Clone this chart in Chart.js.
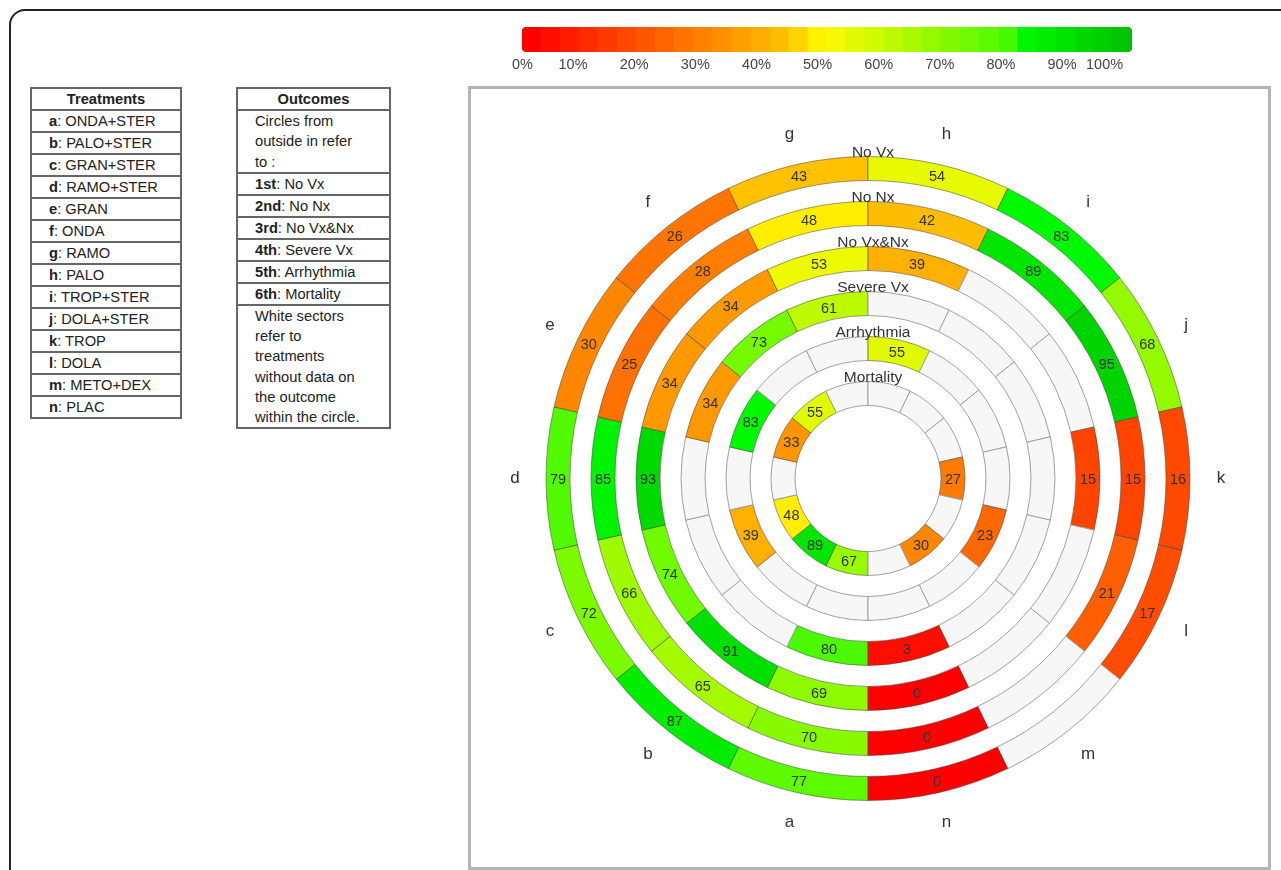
<!DOCTYPE html>
<html>
<head>
<meta charset="utf-8">
<script src="https://cdn.jsdelivr.net/npm/chart.js@4.4.1/dist/chart.umd.min.js"></script>
<style>
  html, body { margin: 0; padding: 0; overflow: hidden; background: #fff; }
  body { width: 1281px; height: 870px; position: relative; font-family: "Liberation Sans", Arial, sans-serif; }
  #frame { position: absolute; left: 9px; top: 9px; width: 1400px; height: 1000px; border: 2px solid #222; border-radius: 16px; }
  #box { position: absolute; left: 468px; top: 86px; width: 803px; height: 784px; border: 3px solid #b4b4b4; box-sizing: border-box; }
  .tbl { position: absolute; top: 87px; border: 2px solid #666; font-size: 14.7px; color: #222; }
  .tbl div { height: 20px; line-height: 20px; padding-left: 17px; border-top: 2px solid #666; white-space: nowrap; }
  .tbl div.head { border-top: none; text-align: center; font-weight: bold; padding-left: 0; }
  #treat { left: 30px; width: 148px; }
  #outc { left: 236px; width: 151px; }
  #outc div.multi { height: 61px; line-height: 20.3px; }
  #outc div.note { height: 121px; line-height: 20.2px; }
  #key { position: absolute; left: 490px; top: 22px; }
  #wheel { position: absolute; left: 468px; top: 84px; }
</style>
</head>
<body>
<div id="frame"></div>
<div id="treat" class="tbl"></div>
<div id="outc" class="tbl"></div>
<div id="box"></div>
<canvas id="key" width="680" height="52"></canvas>
<canvas id="wheel" width="800" height="789"></canvas>
<script>
// treatments a..n, sectors run clockwise starting just left of 6 o'clock
const treatments = ['a', 'b', 'c', 'd', 'e', 'f', 'g', 'h', 'i', 'j', 'k', 'l', 'm', 'n'];
const treatmentNames = ['ONDA+STER', 'PALO+STER', 'GRAN+STER', 'RAMO+STER', 'GRAN', 'ONDA', 'RAMO',
  'PALO', 'TROP+STER', 'DOLA+STER', 'TROP', 'DOLA', 'METO+DEX', 'PLAC'];
const outcomes = ['No Vx', 'No Nx', 'No Vx&Nx', 'Severe Vx', 'Arrhythmia', 'Mortality'];
const ordinals = ['1st', '2nd', '3rd', '4th', '5th', '6th'];

// percent per treatment (a..n), null = no data (white sector)
const noVx       = [77, 87, 72, 79, 30, 26, 43, 54, 83, 68, 16, 17, null, 0];
const noNx       = [70, 65, 66, 85, 25, 28, 48, 42, 89, 95, 15, 21, null, 0];
const noVxNx     = [69, 91, 74, 93, 34, 34, 53, 39, null, null, 15, null, null, 0];
const severeVx   = [80, null, null, null, 34, 73, 61, null, null, null, null, null, null, 3];
const arrhythmia = [null, null, 39, null, 83, null, null, 55, null, null, null, 23, null, null];
const mortality  = [67, 89, 48, null, 33, 55, null, null, null, null, 27, null, 30, null];

const keyTicks = [0, 10, 20, 30, 40, 50, 60, 70, 80, 90, 100];
const keySteps = 32;

const FONT = '"Liberation Sans", Arial, sans-serif';
Chart.defaults.font.family = FONT;

function colorFor(v) {
  let r, g;
  if (v < 43) { r = 255; g = v * 4.5; }
  else if (v < 50) { r = 255; g = 193 + (v - 43) * 8.9; }
  else if (v < 81) { r = 255 - (v - 50) * 6; g = 250; }
  else { r = 0; g = 255 - (v - 81) * 3.1; }
  return 'rgb(' + Math.round(r) + ',' + Math.round(Math.min(g, 255)) + ',0)';
}

// side tables
const treat = document.getElementById('treat');
treat.innerHTML = '<div class="head">Treatments</div>' +
  treatments.map((t, i) => '<div><b>' + t + '</b>: ' + treatmentNames[i] + '</div>').join('');
const outc = document.getElementById('outc');
outc.innerHTML = '<div class="head">Outcomes</div>' +
  '<div class="multi">Circles from<br>outside in refer<br>to :</div>' +
  outcomes.map((o, i) => '<div><b>' + ordinals[i] + '</b>: ' + o + '</div>').join('') +
  '<div class="note">White sectors<br>refer to<br>treatments<br>without data on<br>the outcome<br>within the circle.</div>';

// colour key
const steps = [];
for (let i = 0; i < keySteps; i++) steps.push(i * 100 / (keySteps - 1));
new Chart(document.getElementById('key'), {
  type: 'bar',
  data: {
    labels: steps.map((s, i) => i),
    datasets: [{
      data: steps.map(() => 1),
      backgroundColor: steps.map(colorFor),
      borderWidth: 0,
      borderSkipped: false,
      borderRadius: c => c.dataIndex === 0 ? {topLeft: 5, bottomLeft: 5}
        : c.dataIndex === keySteps - 1 ? {topRight: 5, bottomRight: 5} : 0,
      barPercentage: 1,
      categoryPercentage: 1
    }]
  },
  options: {
    responsive: false,
    animation: false,
    events: [],
    layout: {padding: {left: 32, right: 38, top: 5, bottom: 0}},
    plugins: {legend: {display: false}, tooltip: {enabled: false}},
    scales: {
      x: {display: false},
      y: {display: false, min: 0, max: 1},
      // the printed labels sit a little left of the bar itself
      pct: {
        type: 'linear', position: 'bottom', min: 1.65, max: 101.45, offset: false,
        grid: {display: false, drawTicks: false, offset: false},
        border: {display: false},
        afterBuildTicks: s => { s.ticks = keyTicks.map(v => ({value: v})); },
        afterFit: s => { s.height = 22; },
        ticks: {align: 'inner', padding: 4, color: '#444', font: {size: 14.5},
          autoSkip: false, maxRotation: 0, callback: v => v + '%'}
      }
    }
  }
});

// rings, outermost first, with blank spacer rings between them
const rings = [noVx, noNx, noVxNx, severeVx, arrhythmia, mortality];
const datasets = [];
rings.forEach((vals, i) => {
  datasets.push({
    label: outcomes[i],
    data: vals.map(() => 1),
    values: vals,
    backgroundColor: vals.map(v => v === null ? '#f7f7f7' : colorFor(v)),
    borderColor: vals.map(v => v === null ? '#a0a0a0' : 'rgba(60,60,60,0.5)'),
    borderWidth: 1,
    weight: 1
  });
  if (i < rings.length - 1) {
    datasets.push({
      label: '',
      spacer: true,
      data: vals.map(() => 1),
      backgroundColor: 'rgba(0,0,0,0)',
      borderWidth: 0,
      weight: 21 / 24
    });
  }
});

const ringLabels = {
  id: 'ringLabels',
  afterDatasetsDraw(chart) {
    const ctx = chart.ctx;
    ctx.save();
    ctx.fillStyle = '#333';
    ctx.textAlign = 'center';
    chart.data.datasets.forEach((ds, di) => {
      if (ds.spacer) return;
      const meta = chart.getDatasetMeta(di);
      meta.data.forEach((arc, j) => {
        const p = arc.getProps(['x', 'y', 'startAngle', 'endAngle', 'innerRadius', 'outerRadius'], true);
        const mid = (p.startAngle + p.endAngle) / 2;
        const v = ds.values[j];
        ctx.textBaseline = 'middle';
        if (v !== null) {
          const r = (p.innerRadius + p.outerRadius) / 2;
          ctx.font = '14.5px ' + FONT;
          ctx.fillText(String(v), p.x + Math.cos(mid) * r, p.y + Math.sin(mid) * r + 1);
        }
        if (di === 0) {
          const r = p.outerRadius + 31;
          ctx.font = '17px ' + FONT;
          ctx.fillText(treatments[j], p.x + Math.cos(mid) * r, p.y + Math.sin(mid) * r);
        }
      });
      const a = meta.data[0].getProps(['x', 'y', 'outerRadius'], true);
      ctx.font = '15.5px ' + FONT;
      ctx.textBaseline = 'alphabetic';
      ctx.fillText(ds.label, a.x + 5, a.y - a.outerRadius);
    });
    ctx.restore();
  }
};

new Chart(document.getElementById('wheel'), {
  type: 'doughnut',
  data: {labels: treatments, datasets: datasets},
  options: {
    responsive: false,
    animation: false,
    events: [],
    rotation: 180,
    radius: 322,
    cutout: (73 / 322 * 100) + '%',
    layout: {padding: 0},
    plugins: {legend: {display: false}, tooltip: {enabled: false}}
  },
  plugins: [ringLabels]
});
</script>
</body>
</html>
